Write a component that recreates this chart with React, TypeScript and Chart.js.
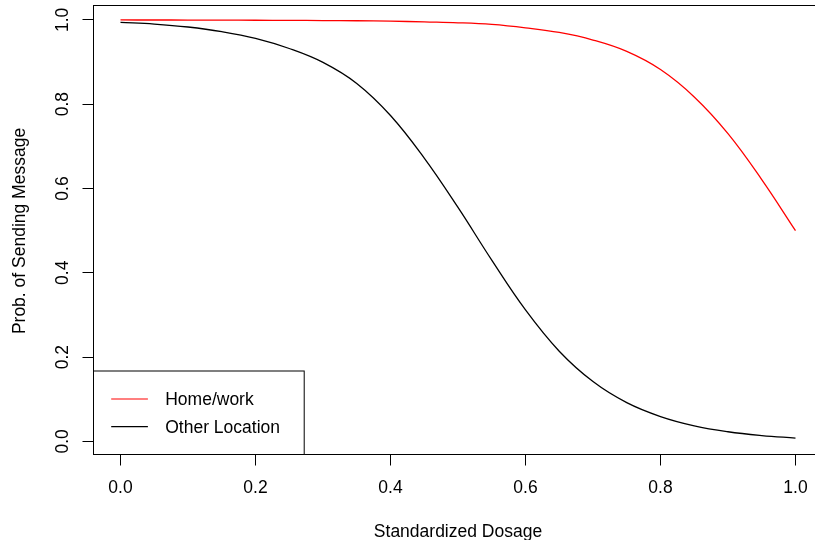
import { useEffect, useRef } from "react";
import { Chart, registerables } from "chart.js";

Chart.register(...registerables);

const dosage = [0, 0.05, 0.1, 0.15, 0.2, 0.25, 0.3, 0.35, 0.4, 0.45, 0.5, 0.55, 0.6, 0.65, 0.7, 0.75, 0.8, 0.85, 0.9, 0.95, 1.0];
const homeWork = [0.9997, 0.9996, 0.9995, 0.9993, 0.999, 0.9987, 0.9983, 0.9978, 0.997, 0.995, 0.993, 0.989, 0.981, 0.97, 0.952, 0.925, 0.882, 0.817, 0.73, 0.621, 0.5];
const otherLocation = [0.994, 0.99, 0.983, 0.972, 0.956, 0.932, 0.899, 0.849, 0.773, 0.672, 0.555, 0.43, 0.312, 0.214, 0.142, 0.092, 0.059, 0.037, 0.023, 0.014, 0.008];
const seriesLabels = ["Home/work", "Other Location"];
const seriesColors = ["#ff0000", "#000000"];
const xTicks = [0, 0.2, 0.4, 0.6, 0.8, 1.0];
const yTicks = [0, 0.2, 0.4, 0.6, 0.8, 1.0];
const xTitle = "Standardized Dosage";
const yTitle = "Prob. of Sending Message";

const FONT_FAMILY = "'Liberation Sans', Arial, Helvetica, sans-serif";
const FONT_SIZE = 17.5;
const FONT = `${FONT_SIZE}px ${FONT_FAMILY}`;

const decorPlugin = {
  id: "decor",
  afterDraw(chart: any) {
    const { ctx, chartArea: a } = chart;
    const xs = chart.scales.x;
    const ys = chart.scales.y;
    ctx.save();
    // frame
    ctx.strokeStyle = "#000";
    ctx.lineWidth = 1;
    ctx.strokeRect(a.left, a.top, a.right - a.left + 20, a.bottom - a.top);

    ctx.fillStyle = "#000";
    ctx.font = FONT;
    // x tick labels
    ctx.textAlign = "center";
    ctx.textBaseline = "alphabetic";
    xTicks.forEach((v) => {
      ctx.fillText(v.toFixed(1), xs.getPixelForValue(v), 493.3);
    });
    // y tick labels (rotated, like R)
    yTicks.forEach((v) => {
      const py = ys.getPixelForValue(v);
      ctx.save();
      ctx.translate(68.3, py);
      ctx.rotate(-Math.PI / 2);
      ctx.textAlign = "center";
      ctx.textBaseline = "alphabetic";
      ctx.fillText(v.toFixed(1), 0, 0);
      ctx.restore();
    });

    // x title
    ctx.textAlign = "center";
    ctx.textBaseline = "alphabetic";
    ctx.fillText(xTitle, xs.getPixelForValue(0.5), 537);

    // y title
    ctx.save();
    ctx.translate(25, (a.top + a.bottom) / 2 + 1);
    ctx.rotate(-Math.PI / 2);
    ctx.textAlign = "center";
    ctx.textBaseline = "alphabetic";
    ctx.fillText(yTitle, 0, 0);
    ctx.restore();

    // legend
    const lw = 210.7;
    const lh = 83.5;
    const lx = a.left;
    const ly = a.bottom - lh;
    ctx.fillStyle = "#fff";
    ctx.fillRect(lx, ly, lw, lh);
    ctx.strokeStyle = "#000";
    ctx.lineWidth = 1;
    ctx.strokeRect(lx, ly, lw, lh);
    const rows = [28, 55.7];
    chart.data.datasets.forEach((ds: any, i: number) => {
      const yy = ly + rows[i];
      ctx.strokeStyle = ds.borderColor;
      ctx.lineWidth = 1.2;
      ctx.beginPath();
      ctx.moveTo(lx + 17.7, yy);
      ctx.lineTo(lx + 54.4, yy);
      ctx.stroke();
      ctx.fillStyle = "#000";
      ctx.textAlign = "left";
      ctx.textBaseline = "middle";
      ctx.fillText(ds.label, lx + 71.7, yy + 1);
    });
    ctx.restore();
  },
};

export default function App() {
  const canvasRef = useRef<HTMLCanvasElement | null>(null);

  useEffect(() => {
    const canvas = canvasRef.current;
    if (!canvas) return;
    const datasets = [homeWork, otherLocation].map((vals, i) => ({
      label: seriesLabels[i],
      data: dosage.map((x, j) => ({ x, y: vals[j] })),
      borderColor: seriesColors[i],
      backgroundColor: seriesColors[i],
      borderWidth: 1.3,
      pointRadius: 0,
      fill: false,
      tension: 0.4,
    }));
    const chart = new Chart(canvas, {
      type: "line",
      data: { datasets },
      options: {
        responsive: false,
        animation: false,
        devicePixelRatio: 1,
        layout: { padding: { top: 5.5, right: 0, bottom: 0, left: 0 } },
        plugins: { legend: { display: false }, tooltip: { enabled: false } },
        scales: {
          x: {
            type: "linear",
            min: -0.04,
            max: 1.0289,
            afterBuildTicks: (s: any) => {
              s.ticks = xTicks.map((v) => ({ value: v }));
            },
            afterFit: (s: any) => {
              s.height = 85.5;
            },
            border: { display: false },
            grid: { drawOnChartArea: false, drawTicks: true, tickLength: 11, color: "#000", lineWidth: 1 },
            ticks: { display: false, autoSkip: false },
          },
          y: {
            type: "linear",
            min: -0.031,
            max: 1.034,
            afterBuildTicks: (s: any) => {
              s.ticks = yTicks.map((v) => ({ value: v }));
            },
            afterFit: (s: any) => {
              s.width = 93.5;
            },
            border: { display: false },
            grid: { drawOnChartArea: false, drawTicks: true, tickLength: 11, color: "#000", lineWidth: 1 },
            ticks: { display: false, autoSkip: false },
          },
        },
      },
      plugins: [decorPlugin],
    });
    return () => chart.destroy();
  }, []);

  return (
    <div style={{ position: "fixed", left: 0, top: 0, width: 815, height: 540, background: "#fff" }}>
      <canvas ref={canvasRef} width={815} height={540} style={{ display: "block" }} />
    </div>
  );
}
